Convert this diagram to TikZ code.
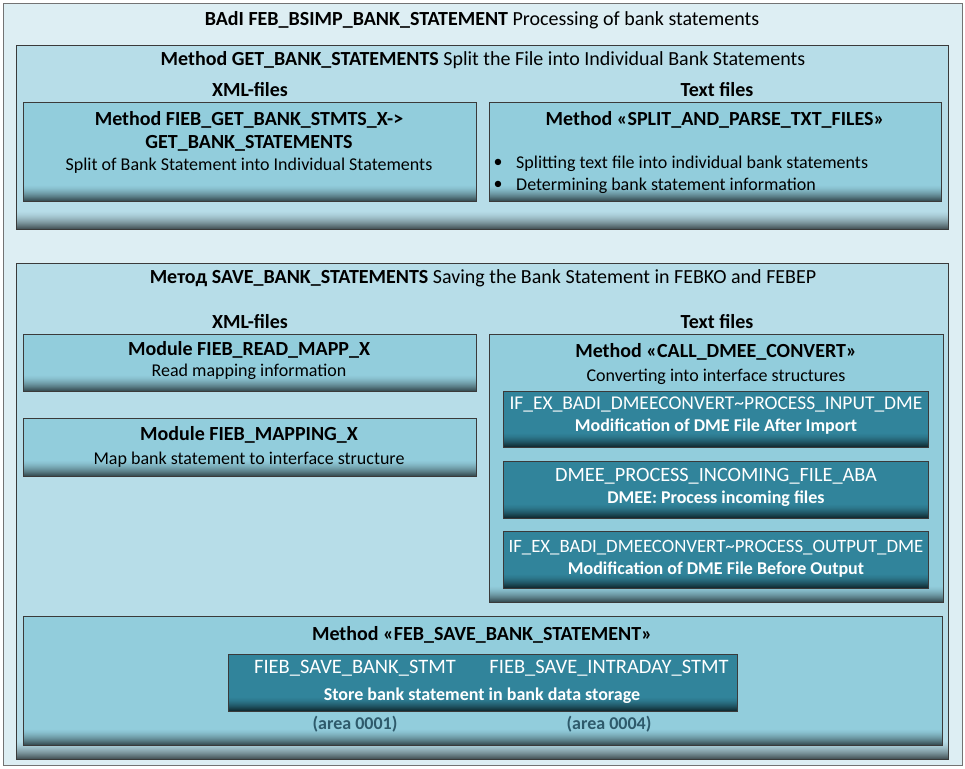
\documentclass[tikz,border=0pt]{standalone}
\usepackage{fontspec}
\setmainfont{Carlito}
\definecolor{bgc}{HTML}{DDEEF3}
\definecolor{sectc}{HTML}{B7DDE8}
\definecolor{boxc}{HTML}{92CDDC}
\definecolor{darkc}{HTML}{31849B}
\definecolor{areac}{HTML}{2E5A6B}
\definecolor{edgec}{HTML}{3A3A3A}
\begin{document}
\begin{tikzpicture}[x=1pt,y=-1pt,
  shadedbox/.style n args={3}{draw=edgec, fill=#1, line width=0.9pt, inner sep=0pt, anchor=north west,
    path picture={
      \foreach \k in {1,...,#3}{
        \pgfmathtruncatemacro\pp{round(100*(\k/#3)^1.6)}
        \fill[#2!\pp!#1] ([yshift=(#3-\k+1)*1pt]path picture bounding box.south west) rectangle ([yshift=(#3-\k)*1pt-0.2pt]path picture bounding box.south east);
      }}},
  sect/.style={shadedbox={sectc}{sectc!40!black}{18}},
  ibox/.style={shadedbox={boxc}{boxc!40!black}{16}},
  dbox/.style={shadedbox={darkc}{darkc!35!black}{14}},
  txtbase/.style={inner sep=0pt, yshift=-1.5pt},
  tx/.style={txtbase, font=\fontsize{18}{20}\selectfont},
  tb/.style={txtbase, font=\fontsize{20}{22}\selectfont\bfseries},
  ttl/.style={txtbase, font=\fontsize{20}{22}\selectfont},
  wt/.style={txtbase, text=white, font=\fontsize{#1}{22}\selectfont},
  wt/.default=19.5,
  wb/.style={txtbase, text=white, font=\fontsize{18}{20}\selectfont\bfseries},
  ar/.style={txtbase, text=areac, font=\fontsize{18}{20}\selectfont\bfseries}]
\useasboundingbox (0,0) rectangle (965,768);
\fill[white] (0,0) rectangle (965,768);
% outer frame
\node[draw=black!55, fill=bgc, line width=1.2pt, anchor=north west, inner sep=0pt, minimum width=959pt, minimum height=762pt] (outer) at (3,3) {};
\node[ttl] (title) at (482,19) {\textbf{BAdI FEB\_BSIMP\_BANK\_STATEMENT} Processing of bank statements};
% section 1
\node[sect, minimum width=932pt, minimum height=184pt] (s1) at (16,45) {};
\node[ttl] (s1t) at (483,59) {\textbf{Method GET\_BANK\_STATEMENTS} Split the File into Individual Bank Statements};
\node[tb] (s1x) at (250,88) {XML-files};
\node[tb] (s1y) at (717,88) {Text files};
\node[ibox, minimum width=453pt, minimum height=99pt] (xml1) at (23,102) {};
\node[tb] (xml1a) at (249,118) {Method FIEB\_GET\_BANK\_STMTS\_X->};
\node[tb] (xml1b) at (249,142) {GET\_BANK\_STATEMENTS};
\node[tx] (xml1c) at (249,164) {Split of Bank Statement into Individual Statements};
\node[ibox, minimum width=452pt, minimum height=99pt] (txt1) at (489,102) {};
\node[tb] (txt1a) at (715,118) {Method «SPLIT\_AND\_PARSE\_TXT\_FILES»};
\node[tx] (b1) at (498,162) {•};
\node[tx, anchor=west] (txt1b) at (516,162) {Splitting text file into individual bank statements};
\node[tx] (b2) at (498,184) {•};
\node[tx, anchor=west] (txt1c) at (516,184) {Determining bank statement information};
% section 2
\node[sect, minimum width=932pt, minimum height=496pt] (s2) at (16,263) {};
\node[ttl] (s2t) at (483,277) {\textbf{Метод SAVE\_BANK\_STATEMENTS} Saving the Bank Statement in FEBKO and FEBEP};
\node[tb] (s2x) at (250,320) {XML-files};
\node[tb] (s2y) at (717,320) {Text files};
\node[ibox, minimum width=453pt, minimum height=57pt] (r1) at (23,334) {};
\node[tb] (r1a) at (249,348) {Module FIEB\_READ\_MAPP\_X};
\node[tx] (r1b) at (249,370) {Read mapping information};
\node[ibox, minimum width=453pt, minimum height=58pt] (r2) at (23,418) {};
\node[tb] (r2a) at (249,433) {Module FIEB\_MAPPING\_X};
\node[tx] (r2b) at (249,458) {Map bank statement to interface structure};
\node[ibox, minimum width=454pt, minimum height=268pt] (call) at (489,334) {};
\node[tb] (calla) at (716,350) {Method «CALL\_DMEE\_CONVERT»};
\node[tx] (callb) at (716,375) {Converting into interface structures};
\node[dbox, minimum width=425pt, minimum height=56pt] (d1) at (503,391) {};
\node[wt] (d1a) at (716,403) {IF\_EX\_BADI\_DMEECONVERT\textasciitilde PROCESS\_INPUT\_DME};
\node[wb] (d1b) at (716,425) {Modification of DME File After Import};
\node[dbox, minimum width=425pt, minimum height=57pt] (d2) at (503,461) {};
\node[wt=20.3] (d2a) at (716,475) {DMEE\_PROCESS\_INCOMING\_FILE\_ABA};
\node[wb] (d2b) at (716,497) {DMEE: Process incoming files};
\node[dbox, minimum width=425pt, minimum height=57pt] (d3) at (503,531) {};
\node[wt=18.8] (d3a) at (716,546) {IF\_EX\_BADI\_DMEECONVERT\textasciitilde PROCESS\_OUTPUT\_DME};
\node[wb] (d3b) at (716,568) {Modification of DME File Before Output};
\node[ibox, minimum width=919pt, minimum height=129pt] (feb) at (23,616) {};
\node[tb] (feba) at (482,633) {Method «FEB\_SAVE\_BANK\_STATEMENT»};
\node[dbox, minimum width=509pt, minimum height=57pt] (fd) at (228,654) {};
\node[wt=20.5] (fda) at (355,667) {FIEB\_SAVE\_BANK\_STMT};
\node[wt=20.5] (fdb) at (609,667) {FIEB\_SAVE\_INTRADAY\_STMT};
\node[wb] (fdc) at (482,694) {Store bank statement in bank data storage};
\node[ar] (a1) at (355,723) {(area 0001)};
\node[ar] (a4) at (609,723) {(area 0004)};
\end{tikzpicture}
\end{document}
